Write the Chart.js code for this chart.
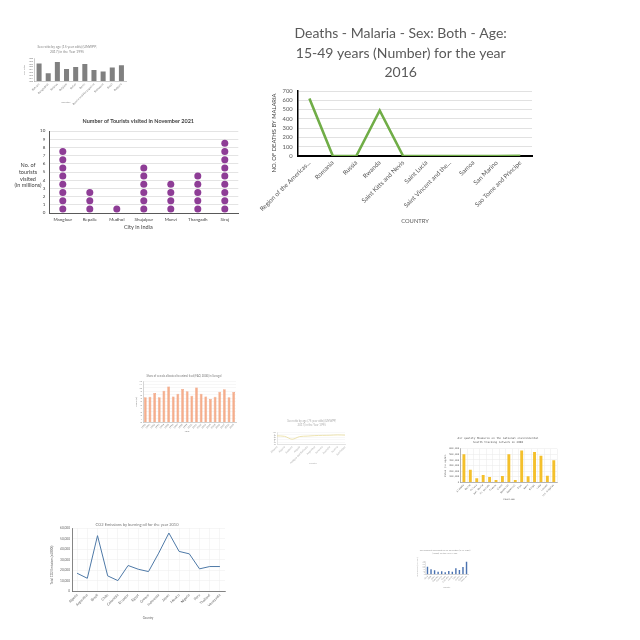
<!DOCTYPE html>
<html><head><meta charset="utf-8">
<script src="https://cdn.jsdelivr.net/npm/chart.js@4.4.0/dist/chart.umd.min.js"></script>
<style>
html,body{margin:0;padding:0;background:#fff;}
body{width:640px;height:640px;position:relative;overflow:hidden;}
.box{position:absolute;}
</style></head><body>
<div class="box" id="bA"><canvas id="cA"></canvas></div>
<div class="box" id="bB"><canvas id="cB"></canvas></div>
<div class="box" id="bC"><canvas id="cC"></canvas></div>
<div class="box" id="bD"><canvas id="cD"></canvas></div>
<div class="box" id="bE"><canvas id="cE"></canvas></div>
<div class="box" id="bF"><canvas id="cF"></canvas></div>
<div class="box" id="bG"><canvas id="cG"></canvas></div>
<div class="box" id="bH"><canvas id="cH"></canvas></div>
<script>
// ---------- DATA ----------
// A: sex ratio (15 year olds) 1995
const countriesA = ['Bahrain','Bangladesh','Belarus','Belgium','Belize','Benin','Bosnia and Herzegovina','Botswana','Brazil','Bulgaria'];
const sexRatioA = [106.1, 102.7, 106.6, 104.2, 104.9, 105.9, 103.8, 103.3, 104.7, 105.5];
// B: tourists Nov 2021 (millions)
const citiesB = ['Manglaur','Repalle','Mudhol','Shujalpur','Manvi','Thangadh','Siraj'];
const touristsB = [8, 3, 1, 6, 4, 5, 9];
// C: malaria deaths 2016
const countriesC = ['Region of the Americas...','Romania','Russia','Rwanda','Saint Kitts and Nevis','Saint Lucia','Saint Vincent and the...','Samoa','San Marino','Sao Tome and Principe'];
const deathsC = [620, 0, 0, 490, 0, 0, 0, 0, 0, 2];
// D: share of cereals for animal feed
const yearsD = ['1990','1991','1992','1993','1994','1995','1996','1997','1998','1999','2000','2001','2002','2003','2004','2005','2006','2007','2008','2009'];
const shareD = [7.3,7.4,8.5,7.3,9.2,10.4,7.5,8.3,9.7,9.0,7.7,10.1,8.3,7.5,6.8,7.4,8.9,9.6,7.3,8.8];
// E: sex ratio (75 year olds) 1995
const countriesE = ['Albania','Algeria','Andorra','Angola','Antigua and Barbuda','Argentina','Armenia','Australia','Austria','Azerbaijan'];
const sexRatioE = [86, 84, 72, 83, 85, 87, 88, 88.5, 90, 89];
// F: air quality measures
const countiesF = ['Alameda','Butte','Colusa','Del Norte','El Dorado','Fresno','Glenn','Humboldt','Imperial','Inyo','Kern','Kings','Lake','Lassen','Los Angeles'];
const airF = [499000,226000,71000,131000,95000,42000,113000,499000,42000,570000,107000,541000,475000,119000,392000];
// G: CO2 from oil 2010
const countriesG = ['Algeria','Argentina','Brazil','Chile','Colombia','Ecuador','Egypt','Greece','Indonesia','Japan','Mexico','Nigeria','Peru','Thailand','Venezuela'];
const co2G = [16900,12100,52700,14400,9900,24300,20700,18500,36100,55200,37700,35400,21100,23300,23300];
// H: small blue bars
const countriesH = ['Chad','Chile','China','Colombia','Comoros','Congo','Costa Rica','Croatia','Cuba','Cyprus','Czechia','Denmark'];
const valuesH = [23, 15, 12, 8, 9, 6, 10, 8, 18, 13, 22, 38];

// ---------- HELPERS ----------
function textPlugin(box, texts){
  return {id:'pageText', afterDraw(chart){
    const ctx = chart.ctx;
    texts.forEach(t=>{
      ctx.save();
      ctx.font = t.font; ctx.fillStyle = t.color || '#555';
      ctx.textAlign = t.align || 'center'; ctx.textBaseline = 'middle';
      ctx.translate(t.x - box.x, t.y - box.y);
      if (t.rot) ctx.rotate(t.rot);
      ctx.fillText(t.text, 0, 0);
      ctx.restore();
    });
  }};
}
function mk(id, box, area, type, data, scales, texts){
  const d = document.getElementById('b'+id);
  d.style.left = box.x+'px'; d.style.top = box.y+'px';
  d.style.width = box.w+'px'; d.style.height = box.h+'px';
  const yw = area.l - box.x, xh = box.y + box.h - area.b;
  ['x','y'].forEach(k=>{
    scales[k].grid = Object.assign({drawTicks:false}, scales[k].grid);
    scales[k].ticks = Object.assign({autoSkip:false}, scales[k].ticks);
  });
  scales.x.afterFit = s => { s.height = xh; s.paddingLeft = 0; s.paddingRight = 0; };
  scales.y.afterFit = s => { s.width = yw; s.paddingTop = 0; s.paddingBottom = 0; };
  return new Chart(document.getElementById('c'+id), {
    type, data,
    options: {
      responsive:true, maintainAspectRatio:false, animation:false, devicePixelRatio:1,
      layout:{padding:{left:0, top: area.t - box.y, right: box.x + box.w - area.r, bottom:0}},
      plugins:{legend:{display:false}, tooltip:{enabled:false}, title:{display:false}},
      scales
    },
    plugins:[textPlugin(box, texts)]
  });
}
const SANS = 'Lato, "Open Sans", sans-serif';
const f = (s, w) => (w ? w + ' ' : '') + s + 'px ' + SANS;
const HP = -Math.PI/2;

// ---------- A ----------
mk('A', {x:15,y:38,w:120,h:68}, {l:34.5,t:58,r:126,b:81}, 'bar',
  {labels: countriesA, datasets:[{data: sexRatioA, backgroundColor:'#808080', barPercentage:0.55, categoryPercentage:1}]},
  {
    x:{grid:{display:false}, border:{display:true,color:'#999',width:0.5},
       ticks:{font:{size:2.8,family:SANS}, color:'#777', minRotation:45, maxRotation:45, padding:1.5}},
    y:{min:100, max:108, ticks:{stepSize:1, font:{size:2.6,family:SANS}, color:'#777', padding:1.5},
       grid:{display:false}, border:{display:true,color:'#999',width:0.5}}
  },
  [
    {text:'Sex ratio by age (15 year olds) (UNWPP,', x:67, y:47.3, font:f(3.4), color:'#888'},
    {text:'2017) in the Year 1995', x:67, y:52.3, font:f(3.4), color:'#888'},
    {text:'Sex ratio', x:24.5, y:70, font:f(2.6), color:'#888', rot:HP},
    {text:'Country', x:66, y:101.7, font:f(2.6), color:'#888'}
  ]);

// ---------- B ----------
const dotsB = [];
citiesB.forEach((c,i)=>{ for(let k=0;k<touristsB[i];k++) dotsB.push({x:c, y:k+0.5}); });
mk('B', {x:0,y:112,w:250,h:122}, {l:49.3,t:131,r:238.3,b:213}, 'line',
  {labels: citiesB, datasets:[{data: dotsB, showLine:false, pointRadius:3.5, pointBackgroundColor:'#8e3d96', pointBorderWidth:0}]},
  {
    x:{type:'category', offset:true, grid:{display:false}, border:{display:true,color:'#595959',width:1},
       ticks:{font:{size:4.5,family:SANS}, color:'#404040', maxRotation:0, minRotation:0, padding:4}},
    y:{min:0, max:10,
       ticks:{stepSize:1, font:{size:4.5,family:SANS}, color:'#404040', padding:4},
       grid:{color:'#d9d9d9', lineWidth:0.7}, border:{display:true,color:'#595959',width:1}}
  },
  [
    {text:'Number of Tourists visited in November 2021', x:138.3, y:121, font:f(5.5,'bold'), color:'#404040'},
    {text:'No. of', x:28, y:165, font:f(5.5), color:'#404040'},
    {text:'tourists', x:28, y:172.5, font:f(5.5), color:'#404040'},
    {text:'visited', x:28, y:179, font:f(5.5), color:'#404040'},
    {text:'(in millions)', x:28, y:185.5, font:f(5.5), color:'#404040'},
    {text:'City in India', x:138.3, y:227.3, font:f(5.5), color:'#404040'}
  ]);

// ---------- C ----------
mk('C', {x:258,y:14,w:290,h:218}, {l:297.7,t:91,r:532,b:156}, 'line',
  {labels: countriesC, datasets:[{data: deathsC, borderColor:'#70ad47', borderWidth:2.6, pointRadius:0, tension:0, fill:false}]},
  {
    x:{offset:true, grid:{display:false}, border:{display:true,color:'#000',width:2},
       ticks:{font:{size:6.3,family:SANS}, color:'#595959', minRotation:45, maxRotation:45, padding:3}},
    y:{min:0, max:700, ticks:{stepSize:100, font:{size:5.8,family:SANS}, color:'#595959', padding:5},
       grid:{color:'#d9d9d9', lineWidth:0.8}, border:{display:true,color:'#000',width:1.5}}
  },
  [
    {text:'Deaths - Malaria - Sex: Both - Age:', x:400.7, y:33, font:f(14), color:'#595959'},
    {text:'15-49 years (Number) for the year', x:400.7, y:53, font:f(14), color:'#595959'},
    {text:'2016', x:400.7, y:72.5, font:f(14), color:'#595959'},
    {text:'NO. OF DEATHS BY MALARIA', x:274, y:133, font:f(5.8), color:'#404040', rot:HP},
    {text:'COUNTRY', x:415, y:221, font:f(5.8), color:'#595959'}
  ]);

// ---------- D ----------
mk('D', {x:128,y:368,w:112,h:66}, {l:143,t:381,r:236,b:422.3}, 'bar',
  {labels: yearsD, datasets:[{data: shareD, backgroundColor:'#f5ae8c', borderColor:'#ee9570', borderWidth:0.5, barPercentage:0.6, categoryPercentage:1}]},
  {
    x:{grid:{display:false}, border:{display:true,color:'#aaa',width:0.5},
       ticks:{font:{size:2.4,family:SANS}, color:'#777', minRotation:45, maxRotation:45, padding:1}},
    y:{min:0, max:12, ticks:{stepSize:1, font:{size:2.4,family:SANS}, color:'#777', padding:1},
       grid:{color:'#eeeeee', lineWidth:0.5}, border:{display:true,color:'#aaa',width:0.5}}
  },
  [
    {text:'Share of cereals allocated to animal feed (FAO, 2000) in Senegal', x:184, y:375.7, font:f(2.7), color:'#777'},
    {text:'Share (%)', x:136, y:402, font:f(2.4), color:'#777', rot:HP},
    {text:'Year', x:187, y:431, font:f(2.6), color:'#777'}
  ]);

// ---------- E ----------
mk('E', {x:265,y:415,w:100,h:55}, {l:277,t:432.5,r:345,b:444.5}, 'line',
  {labels: countriesE, datasets:[{data: sexRatioE, borderColor:'#e8dc9a', borderWidth:0.8, pointRadius:0, tension:0.3, fill:false}]},
  {
    x:{grid:{display:false}, border:{display:true,color:'#ccc',width:0.5},
       ticks:{font:{size:2.6,family:SANS}, color:'#aaa', minRotation:45, maxRotation:45, padding:1}},
    y:{min:50, max:100, ticks:{stepSize:10, font:{size:2,family:SANS}, color:'#aaa', padding:1},
       grid:{color:'#f0f0f0', lineWidth:0.5}, border:{display:true,color:'#ccc',width:0.5}}
  },
  [
    {text:'Sex ratio by age (75 year olds) (UNWPP,', x:311.7, y:421, font:f(2.8), color:'#aaa'},
    {text:'2017) in the Year 1995', x:311.7, y:425, font:f(2.8), color:'#aaa'},
    {text:'Sex ratio', x:274, y:438, font:f(2), color:'#aaa', rot:HP},
    {text:'Country', x:313, y:463, font:f(2.2), color:'#aaa'}
  ]);

// ---------- F ----------
const MONO = '"DejaVu Sans Mono", "Liberation Mono", monospace';
mk('F', {x:438,y:433,w:125,h:72}, {l:460.7,t:448.7,r:557,b:482.3}, 'bar',
  {labels: countiesF, datasets:[{data: airF, backgroundColor:'#f4c02c', barPercentage:0.45, categoryPercentage:1}]},
  {
    x:{grid:{color:'#e8e8e8', lineWidth:0.5}, border:{display:true,color:'#888',width:0.6},
       ticks:{font:{size:2.4,family:MONO}, color:'#666', minRotation:45, maxRotation:45, padding:1.5}},
    y:{min:0, max:600000, ticks:{stepSize:100000, font:{size:2.4,family:MONO}, color:'#666', padding:1.5,
         callback:v=>v.toLocaleString('en-US')},
       grid:{color:'#e8e8e8', lineWidth:0.5}, border:{display:true,color:'#888',width:0.6}}
  },
  [
    {text:'Air quality Measures on the national environmental', x:498, y:438.7, font:'2.7px '+MONO, color:'#555'},
    {text:'health tracking network in 2008', x:498, y:442.3, font:'2.7px '+MONO, color:'#555'},
    {text:'Value (in ug/m3)', x:445.3, y:465.5, font:'2.4px '+MONO, color:'#555', rot:HP},
    {text:'Counties', x:509, y:499.7, font:'2.4px '+MONO, color:'#555'}
  ]);

// ---------- G ----------
mk('G', {x:40,y:518,w:190,h:105}, {l:72,t:528,r:225,b:591}, 'line',
  {labels: countriesG, datasets:[{data: co2G, borderColor:'#4e79a7', borderWidth:1, pointRadius:0, tension:0, fill:false}]},
  {
    x:{offset:true, grid:{color:'#ececec', lineWidth:0.5}, border:{display:true,color:'#666',width:0.8},
       ticks:{font:{size:3.6,family:SANS}, color:'#666', minRotation:45, maxRotation:45, padding:2}},
    y:{min:0, max:60000, ticks:{stepSize:10000, font:{size:3.2,family:SANS}, color:'#666', padding:2},
       grid:{color:'#ececec', lineWidth:0.5}, border:{display:true,color:'#666',width:0.8}}
  },
  [
    {text:'CO2 Emissions by burning oil for the year 2010', x:137, y:525, font:f(4), color:'#777'},
    {text:'Total CO2 Emissions (x1000t)', x:52, y:565, font:f(3), color:'#666', rot:HP},
    {text:'Country', x:148, y:618, font:f(3), color:'#666'}
  ]);

// ---------- H ----------
mk('H', {x:405,y:545,w:75,h:48}, {l:425.7,t:561,r:468.3,b:574.3}, 'bar',
  {labels: countriesH, datasets:[{data: valuesH, backgroundColor:'#4a72b0', barPercentage:0.4, categoryPercentage:1}]},
  {
    x:{grid:{display:false}, border:{display:true,color:'#aaa',width:0.5},
       ticks:{font:{size:1.9,family:SANS}, color:'#888', minRotation:45, maxRotation:45, padding:1}},
    y:{min:0, max:40, ticks:{stepSize:5, font:{size:1.8,family:SANS}, color:'#aaa', padding:1},
       grid:{display:false}, border:{display:true,color:'#ccc',width:0.5}}
  },
  [
    {text:'Government expenditure on education (% of GDP)', x:445, y:550.7, font:f(2.3), color:'#999'},
    {text:'(2000) for the year 1999', x:445, y:553.5, font:f(2.3), color:'#999'},
    {text:'Expenditure (% of GDP)', x:417, y:567, font:f(1.9), color:'#aaa', rot:HP},
    {text:'Country', x:446.7, y:587.3, font:f(2), color:'#999'}
  ]);
</script>
</body></html>
